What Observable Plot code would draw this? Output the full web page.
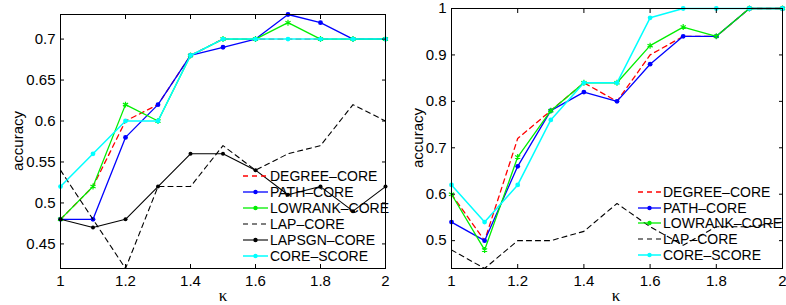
<!DOCTYPE html>
<html>
<head>
<meta charset="utf-8">
<script src="https://cdn.jsdelivr.net/npm/d3@7"></script>
<script src="https://cdn.jsdelivr.net/npm/@observablehq/plot@0.6"></script>
<style>
  html, body { margin: 0; padding: 0; background: white; }
  #root { position: relative; width: 786px; height: 305px; overflow: hidden; font-family: "Liberation Sans", Arial, sans-serif; }
  .panel { position: absolute; top: 0; }
  .lab { position: absolute; font-size: 15px; color: #000; white-space: nowrap; }
  .ylab { transform: translate(-50%, -50%) rotate(-90deg); }
  .kappa { font-family: "Liberation Serif", "DejaVu Serif", serif; font-size: 17px; transform: translate(-50%, -50%); }
  .legend { position: absolute; font-size: 14px; line-height: 1; }
  .legrow { position: absolute; display: flex; align-items: center; white-space: nowrap; }
  .legrow svg { display: block; }
</style>
</head>
<body>
<div id="root"></div>
<script>
// ---- data ----
const kappa = [1, 1.1, 1.2, 1.3, 1.4, 1.5, 1.6, 1.7, 1.8, 1.9, 2];
const xTicks = [1, 1.2, 1.4, 1.6, 1.8, 2];

// left panel
const leftDegree    = [0.48, 0.52, 0.60, 0.62, 0.68, 0.70, 0.70, 0.70, 0.70, 0.70, 0.70];
const leftPath      = [0.48, 0.48, 0.58, 0.62, 0.68, 0.69, 0.70, 0.73, 0.72, 0.70, 0.70];
const leftLowrank   = [0.48, 0.52, 0.62, 0.60, 0.68, 0.70, 0.70, 0.72, 0.70, 0.70, 0.70];
const leftLap       = [0.54, 0.48, 0.42, 0.52, 0.52, 0.57, 0.54, 0.56, 0.57, 0.62, 0.60];
const leftLapsgn    = [0.48, 0.47, 0.48, 0.52, 0.56, 0.56, 0.54, 0.51, 0.52, 0.49, 0.52];
const leftCoreScore = [0.52, 0.56, 0.60, 0.60, 0.68, 0.70, 0.70, 0.70, 0.70, 0.70, 0.70];
const leftYTicks = [0.45, 0.5, 0.55, 0.6, 0.65, 0.7];

// right panel
const rightDegree    = [0.60, 0.50, 0.72, 0.78, 0.84, 0.80, 0.90, 0.94, 0.94, 1.00, 1.00];
const rightPath      = [0.54, 0.50, 0.66, 0.78, 0.82, 0.80, 0.88, 0.94, 0.94, 1.00, 1.00];
const rightLowrank   = [0.60, 0.48, 0.68, 0.78, 0.84, 0.84, 0.92, 0.96, 0.94, 1.00, 1.00];
const rightLap       = [0.48, 0.44, 0.50, 0.50, 0.52, 0.58, 0.53, 0.49, 0.53, 0.53, 0.54];
const rightCoreScore = [0.62, 0.54, 0.62, 0.76, 0.84, 0.84, 0.98, 1.00, 1.00, 1.00, 1.00];
const rightYTicks = [0.5, 0.6, 0.7, 0.8, 0.9, 1];

// series styles
const styles = {
  "DEGREE-CORE":  {color: "#ff0000", dash: "5,4", width: 1.3, marker: null},
  "PATH-CORE":    {color: "#0000ff", dash: null, width: 1.3, marker: "circle"},
  "LOWRANK-CORE": {color: "#00ee00", dash: null, width: 1.3, marker: "asterisk"},
  "LAP-CORE":     {color: "#000000", dash: "5,4", width: 1.1, marker: null},
  "LAPSGN-CORE":  {color: "#000000", dash: null, width: 1.1, marker: "circle"},
  "CORE-SCORE":   {color: "#00ffff", dash: null, width: 1.5, marker: "circle"}
};

const leftSeries = [
  ["DEGREE-CORE", leftDegree], ["PATH-CORE", leftPath], ["LOWRANK-CORE", leftLowrank],
  ["LAP-CORE", leftLap], ["LAPSGN-CORE", leftLapsgn], ["CORE-SCORE", leftCoreScore]
];
const rightSeries = [
  ["DEGREE-CORE", rightDegree], ["PATH-CORE", rightPath], ["LOWRANK-CORE", rightLowrank],
  ["LAP-CORE", rightLap], ["CORE-SCORE", rightCoreScore]
];

function seriesMarks(series) {
  const marks = [];
  for (const [name, vals] of series) {
    const s = styles[name];
    const data = kappa.map((k, i) => ({k, v: vals[i]}));
    marks.push(Plot.line(data, {x: "k", y: "v", stroke: s.color, strokeWidth: s.width,
      strokeDasharray: s.dash || undefined, curve: "linear"}));
    if (s.marker === "circle") {
      marks.push(Plot.dot(data, {x: "k", y: "v", r: name === "LAPSGN-CORE" ? 2 : 2.4, fill: s.color, stroke: "none"}));
    } else if (s.marker === "asterisk") {
      marks.push(Plot.dot(data, {x: "k", y: "v", r: 2.8, symbol: "asterisk", stroke: s.color, strokeWidth: 1.2, fill: "none"}));
    }
  }
  return marks;
}

function axes(yTicks) {
  return [
    Plot.frame({stroke: "black", strokeWidth: 1}),
    Plot.axisX(xTicks, {anchor: "bottom", tickSize: -4, tickPadding: 11, label: null, fontSize: 15, tickFormat: d => String(d)}),
    Plot.axisX(xTicks, {anchor: "top", tickSize: -4, tickFormat: () => "", label: null}),
    Plot.axisY(yTicks, {anchor: "left", tickSize: -4, tickPadding: 9, label: null, fontSize: 15, tickFormat: d => String(d)}),
    Plot.axisY(yTicks, {anchor: "right", tickSize: -4, tickFormat: () => "", label: null})
  ];
}

const root = document.getElementById("root");

const left = Plot.plot({
  width: 395, height: 305,
  marginLeft: 60, marginRight: 10, marginTop: 14, marginBottom: 37,
  style: {fontFamily: "Liberation Sans, Arial, sans-serif", fontSize: "15px", background: "transparent", overflow: "visible"},
  x: {domain: [1, 2]},
  y: {domain: [0.42, 0.73]},
  marks: [...seriesMarks(leftSeries), ...axes(leftYTicks)]
});
left.classList.add("panel");
left.style.left = "0px";
root.appendChild(left);

const right = Plot.plot({
  width: 391, height: 305,
  marginLeft: 56, marginRight: 4, marginTop: 8, marginBottom: 37,
  style: {fontFamily: "Liberation Sans, Arial, sans-serif", fontSize: "15px", background: "transparent", overflow: "visible"},
  x: {domain: [1, 2]},
  y: {domain: [0.44, 1]},
  marks: [...seriesMarks(rightSeries), ...axes(rightYTicks)]
});
right.classList.add("panel");
right.style.left = "395px";
root.appendChild(right);

// axis labels
function addLabel(text, x, y, cls) {
  const d = document.createElement("div");
  d.className = "lab " + cls;
  d.style.left = x + "px";
  d.style.top = y + "px";
  d.textContent = text;
  root.appendChild(d);
}
addLabel("accuracy", 17, 141, "ylab");
addLabel("accuracy", 417, 138, "ylab");
addLabel("κ", 223, 296, "kappa");
addLabel("κ", 616, 296, "kappa");

// legends
function legend(series, x0, y0, step, sampleW) {
  series.forEach(([name], i) => {
    const s = styles[name];
    const row = document.createElement("div");
    row.className = "legrow legend";
    row.style.left = x0 + "px";
    row.style.top = (y0 + i * step - 7) + "px";
    const ns = "http://www.w3.org/2000/svg";
    const svg = document.createElementNS(ns, "svg");
    svg.setAttribute("width", sampleW + 2);
    svg.setAttribute("height", 12);
    const ln = document.createElementNS(ns, "line");
    ln.setAttribute("x1", 0); ln.setAttribute("x2", sampleW);
    ln.setAttribute("y1", 6); ln.setAttribute("y2", 6);
    ln.setAttribute("stroke", s.color);
    ln.setAttribute("stroke-width", s.width);
    if (s.dash) ln.setAttribute("stroke-dasharray", s.dash);
    svg.appendChild(ln);
    if (s.marker) {
      const c = document.createElementNS(ns, "circle");
      c.setAttribute("cx", sampleW / 2); c.setAttribute("cy", 6);
      c.setAttribute("r", 2.2);
      c.setAttribute("fill", s.color);
      svg.appendChild(c);
    }
    row.appendChild(svg);
    const t = document.createElement("span");
    t.textContent = name.replace("-", "\u2013");
    row.appendChild(t);
    root.appendChild(row);
  });
}
legend(leftSeries, 243, 176, 16, 25);
legend(rightSeries, 638, 191.7, 15.8, 23);
</script>
</body>
</html>
